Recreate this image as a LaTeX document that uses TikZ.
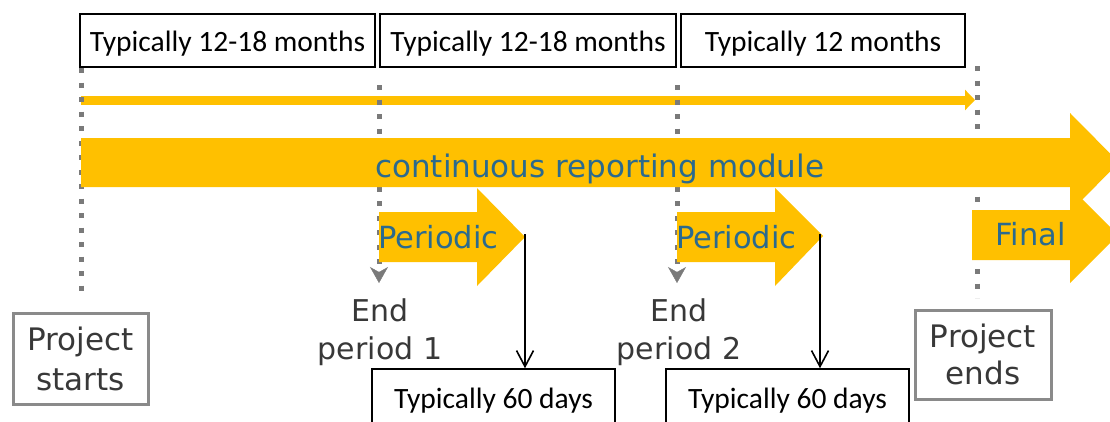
\documentclass[tikz,border=0pt]{standalone}
\usepackage{fontspec}
\setmainfont{DejaVu Sans}
\newfontfamily\calibrif{Carlito}
\usetikzlibrary{arrows.meta}
\definecolor{gold}{HTML}{FFC000}
\definecolor{tealtxt}{HTML}{2B6A8E}
\definecolor{dotgray}{HTML}{7A7A7A}
\definecolor{boxgray}{HTML}{8A8A8A}
\definecolor{txtgray}{HTML}{383838}
\begin{document}
\begin{tikzpicture}[x=1pt,y=-1pt,
  tbox/.style={draw=black,line width=1.5pt,inner sep=0pt,
    font=\calibrif\fontsize{29.5}{31}\selectfont},
  topbox/.style={tbox,text height=37pt,text depth=16pt,minimum height=53pt},
  botbox/.style={tbox,text height=39pt,text depth=15pt,minimum height=54pt},
  projbox/.style={draw=boxgray,line width=3pt,inner sep=0pt,align=center,text=txtgray},
  endlabel/.style={inner sep=0pt,align=center,text=txtgray,font=\fontsize{30}{38}\selectfont},
  goldtxt/.style={inner sep=0pt,text=tealtxt,font=\fontsize{31}{36}\selectfont},
  dotline/.style={draw=dotgray,line width=5pt,dash pattern=on 5pt off 9.5pt},
  blk/.style={draw=black,line width=1.6pt,-{Straight Barb[length=16pt,width=17pt,line width=1.6pt]}}
]
\clip (0,0) rectangle (1110,421);

% top period boxes
\node[topbox,minimum width=295pt] (m1) at (227.5,40.5) {Typically 12-18 months};
\node[topbox,minimum width=296pt] (m2) at (528,40.5) {Typically 12-18 months};
\node[topbox,minimum width=284pt] (m3) at (823,40.5) {Typically 12 months};

% thin timeline arrow
\coordinate (ta) at (81,100);
\coordinate (tb) at (975,100);
\draw[gold,line width=9pt,-{Triangle[length=10pt,width=20pt]}] (ta) -- (tb);

% project boxes and end labels
\node[projbox,minimum width=135pt,minimum height=91pt,font=\fontsize{31}{40}\selectfont] (ps) at (80.5,358.5) {Project\\starts};
\node[projbox,minimum width=136pt,minimum height=89pt,font=\fontsize{31}{37}\selectfont] (pe) at (983,354.5) {Project\\ends};
\node[endlabel] (e1) at (380,332) {End\\period 1};
\node[endlabel] (e2) at (679,332) {End\\period 2};

% dotted milestone lines
\coordinate (d1top) at (81,68);
\coordinate (d1bot) at (81,298);
\coordinate (d2top) at (379,85);
\coordinate (d2bot) at (379,283);
\coordinate (d3top) at (677,85);
\coordinate (d3bot) at (677,283);
\coordinate (d4top) at (977,66);
\coordinate (d4bot) at (977,298);
\draw[dotline] (d1top) -- (d1bot);
\draw[dotline] (d4top) -- (d4bot);
\draw[dotline,-{Stealth[length=16pt,width=18pt,inset=5pt,line width=0.4pt]}] (d2top) -- (d2bot);
\draw[dotline,-{Stealth[length=16pt,width=18pt,inset=5pt,line width=0.4pt]}] (d3top) -- (d3bot);

% big continuous arrow
\fill[gold] (81,138) -- (1070,138) -- (1070,113) -- (1119,162.5) -- (1070,212) -- (1070,187) -- (81,187) -- cycle;
% final arrow
\fill[gold] (972,210) -- (1070,210) -- (1070,187) -- (1118,235) -- (1070,283) -- (1070,260) -- (972,260) -- cycle;
% periodic arrows
\fill[gold] (379,212) -- (477,212) -- (477,188) -- (525,237) -- (477,286) -- (477,262) -- (379,262) -- cycle;
\fill[gold] (677,212) -- (775,212) -- (775,188) -- (823,236) -- (775,286) -- (775,262) -- (677,262) -- cycle;

% texts inside gold arrows
\node[goldtxt,anchor=base west] (ct) at (375,177.5) {continuous reporting module};
\node[goldtxt,anchor=base west,font=\fontsize{30.5}{36}\selectfont] (p1) at (378,248) {Periodic};
\node[goldtxt,anchor=base west,font=\fontsize{30.5}{36}\selectfont] (p2) at (676,248) {Periodic};
\node[goldtxt,anchor=base west,font=\fontsize{30.5}{36}\selectfont] (fi) at (995,245) {Final};

% bottom boxes
\node[botbox,minimum width=243pt] (b1) at (493.5,396) {Typically 60 days};
\node[botbox,minimum width=243pt] (b2) at (787.5,396) {Typically 60 days};

% connectors from periodic tips
\coordinate (t1) at (525,234);
\coordinate (t2) at (820,234);
\draw[blk] (t1) -- (t1 |- b1.north);
\draw[blk] (t2) -- (t2 |- b2.north);
\end{tikzpicture}
\end{document}
